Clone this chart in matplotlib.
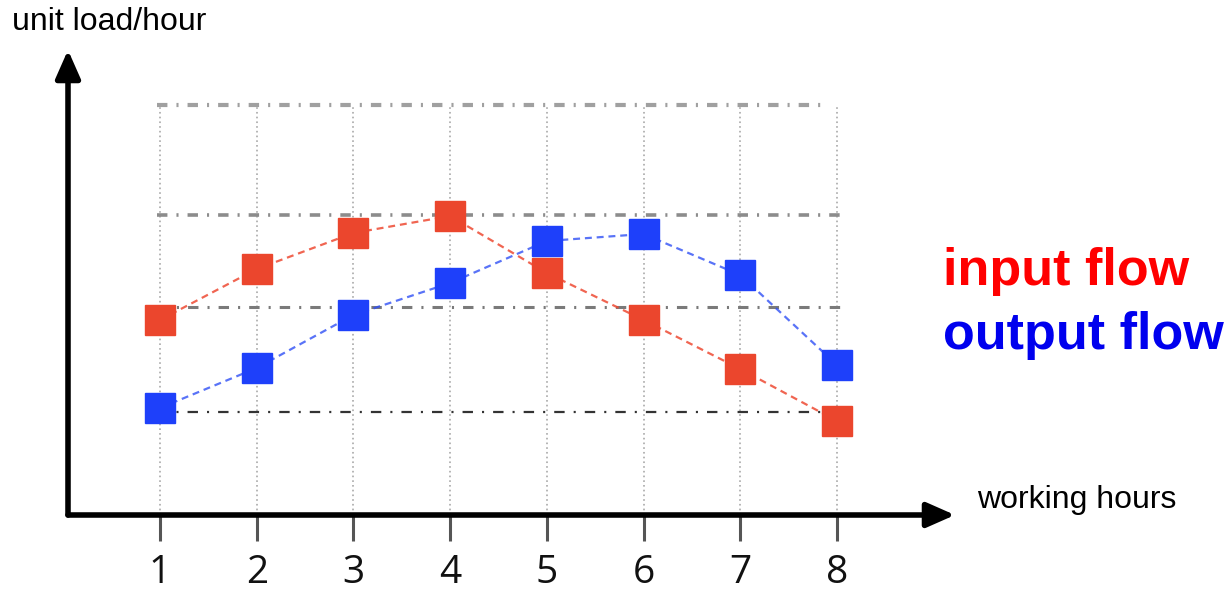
import matplotlib
matplotlib.use("Agg")
import matplotlib.pyplot as plt

plt.rcParams['lines.scale_dashes'] = False

hours = [1, 2, 3, 4, 5, 6, 7, 8]
tick_labels = ["1", "2", "3", "4", "5", "6", "7", "8"]
input_flow = [19.5, 24.6, 28.2, 29.9, 24.2, 19.5, 14.6, 9.4]
output_flow = [10.7, 14.7, 20.0, 23.2, 27.4, 28.1, 24.0, 15.0]
grid_levels = [41.0, 30.0, 20.8, 10.3]

W, H = 1232, 592
fig = plt.figure(figsize=(W / 100, H / 100), dpi=100)
fig.patch.set_facecolor('white')

# axes: left edge at x=68px, bottom at y=515px, right at 955px, top at 50px
ax = fig.add_axes([68 / W, (H - 515) / H, (955 - 68) / W, (515 - 50) / H])
ax.set_xlim(0.049, 9.22)
ax.set_ylim(0, 46.5)
for s in ax.spines.values():
    s.set_visible(False)
ax.set_facecolor('none')

# vertical dotted grid
for x in hours:
    ax.plot([x, x], [0, 41.0], color='#b0b0b0', lw=1.3, ls=(0, (1.2, 2.2)), zorder=1)

# horizontal dash-dot grid
gstyles = [('#a0a0a0', 3.0, 7.9), ('#8c8c8c', 2.6, 8.06), ('#7a7a7a', 2.2, 8.06), ('#333333', 1.6, 8.06)]
for lvl, (c, lw, xe) in zip(grid_levels, gstyles):
    ax.plot([0.97, xe], [lvl, lvl], color=c, lw=lw, ls=(0, (7.5, 6.5, 1.5, 6.5)), zorder=1)

# series
ax.plot(hours, input_flow, color='#EE4A33', lw=1.6, ls=(0, (5, 3.5)), alpha=0.85, zorder=3)
ax.plot(hours, input_flow, ls='none', marker='s', ms=22, color='#EB462D', mec='#EB462D', zorder=4)
ax.plot(hours, output_flow, color='#3050F5', lw=1.6, ls=(0, (5, 3.5)), alpha=0.8, zorder=3)
ax.plot(hours, output_flow, ls='none', marker='s', ms=22, color='#1E40FA', mec='#1E40FA', zorder=4)

# ticks
ax.set_xticks(hours)
ax.set_xticklabels(tick_labels, family='Open Sans', fontsize=28, color='#111111')
ax.tick_params(axis='x', direction='out', length=19, width=2.2, color='#555555', pad=9)
ax.set_yticks([])

# axis arrows
arrow = dict(arrowstyle='-|>,head_length=1.7,head_width=0.75', lw=4.0, color='black',
             shrinkA=0, shrinkB=0)
ax.annotate('', xy=(1.0, 0.0), xytext=(0.0, 0.0), xycoords='axes fraction',
            textcoords='axes fraction', arrowprops=arrow, annotation_clip=False, zorder=5)
ax.annotate('', xy=(0.0, 1.0), xytext=(0.0, 0.0), xycoords='axes fraction',
            textcoords='axes fraction', arrowprops=arrow, annotation_clip=False, zorder=5)

# labels
fig.text(12 / W, 1 - 22 / H, 'unit load/hour', family='Liberation Sans', fontsize=23,
         ha='left', va='center', color='black')
fig.text(977 / W, 1 - 500 / H, 'working hours', family='Liberation Sans', fontsize=23,
         ha='left', va='center', color='black')
fig.text(943 / W, 1 - 271 / H, 'input flow', family='Liberation Sans', fontweight='bold',
         fontsize=37.5, ha='left', va='center', color='#FF0000')
fig.text(943 / W, 1 - 336 / H, 'output flow', family='Liberation Sans', fontweight='bold',
         fontsize=37.5, ha='left', va='center', color='#0000EE')

fig.savefig('out.png', dpi=100, facecolor='white')
